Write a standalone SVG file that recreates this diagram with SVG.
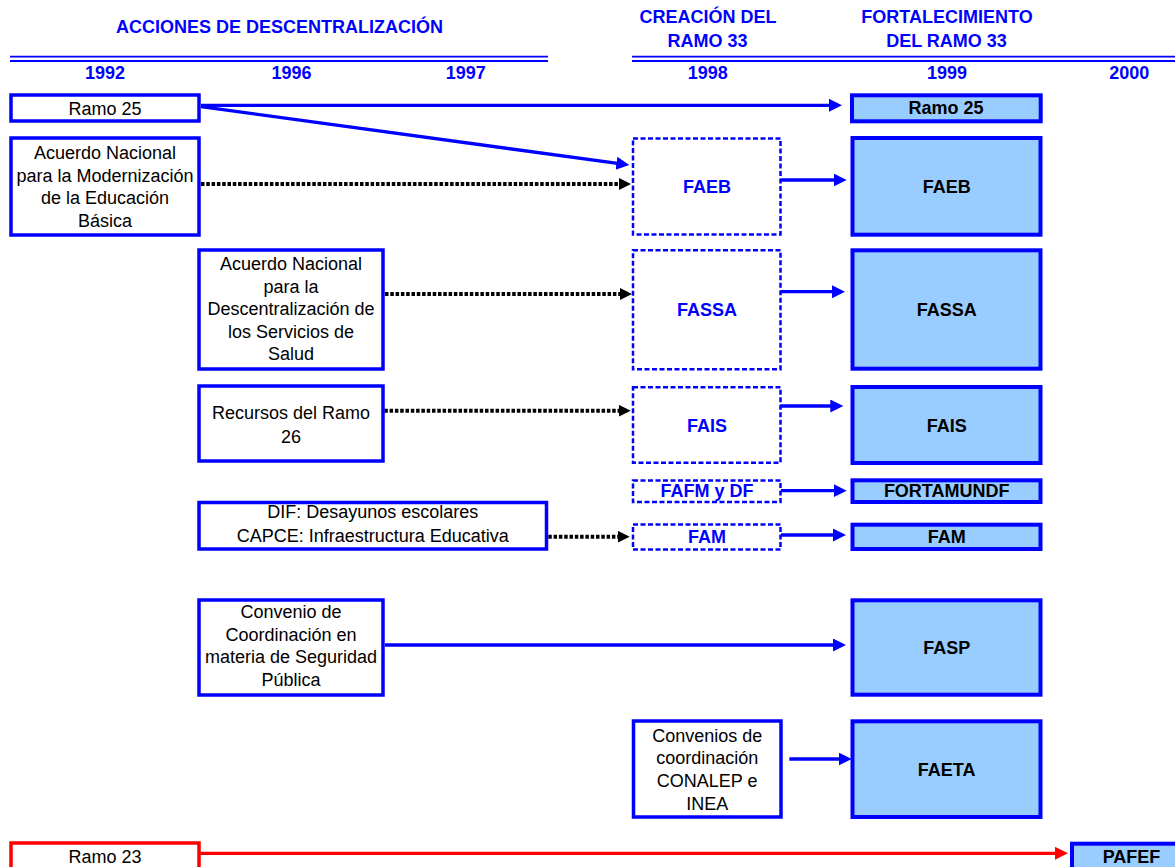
<svg xmlns="http://www.w3.org/2000/svg" width="1175" height="867" viewBox="0 0 1175 867">
<style>
text{font-family:"Liberation Sans",Arial,sans-serif;font-size:18px;text-anchor:middle}
.h{font-weight:bold;fill:#0000FF}
.t{fill:#000}
.b{font-weight:bold;fill:#000}
.bb{font-weight:bold;fill:#0000FF}
.wbox{fill:#fff;stroke:#0000FF;stroke-width:3.5}
.dbox{fill:#fff;stroke:#0000FF;stroke-width:2.5;stroke-dasharray:5 2.5}
.fbox{fill:#99CCFF;stroke:#0000FF;stroke-width:4}
.rbox{fill:#fff;stroke:#FF0000;stroke-width:3.5}
.hl{stroke:#0000FF;stroke-width:1.8}
.ab{fill:none;stroke:#0000FF;stroke-width:3.3;marker-end:url(#mb)}
.ak{fill:none;stroke:#000;stroke-width:4;stroke-dasharray:3.5 1.8;marker-end:url(#mk)}
.ar{fill:none;stroke:#FF0000;stroke-width:3.3;marker-end:url(#mr)}
</style>
<defs>
<marker id="mb" markerUnits="userSpaceOnUse" markerWidth="14" markerHeight="14" refX="5" refY="6.5" orient="auto"><path d="M0,0 L13,6.5 L0,13 z" fill="#0000FF"/></marker>
<marker id="mk" markerUnits="userSpaceOnUse" markerWidth="14" markerHeight="14" refX="5" refY="6" orient="auto"><path d="M0,0 L12,6 L0,12 z" fill="#000"/></marker>
<marker id="mr" markerUnits="userSpaceOnUse" markerWidth="16" markerHeight="16" refX="5" refY="6.5" orient="auto"><path d="M0,0 L13,6.5 L0,13 z" fill="#FF0000"/></marker>
</defs>
<rect width="1175" height="867" fill="#fff"/>
<g id="header">
<text class="h" x="279.5" y="33.3">ACCIONES DE DESCENTRALIZACIÓN</text>
<text class="h" x="708" y="22.7">CREACIÓN DEL</text>
<text class="h" x="707.5" y="46.7">RAMO 33</text>
<text class="h" x="947" y="22.7">FORTALECIMIENTO</text>
<text class="h" x="946.5" y="46.7">DEL RAMO 33</text>
<line class="hl" x1="10" y1="56.7" x2="548" y2="56.7"/>
<line class="hl" x1="10" y1="61" x2="548" y2="61"/>
<line class="hl" x1="632" y1="56.7" x2="1175" y2="56.7"/>
<line class="hl" x1="632" y1="61" x2="1175" y2="61"/>
<text class="h" x="105" y="79">1992</text>
<text class="h" x="291.6" y="79">1996</text>
<text class="h" x="465.7" y="79">1997</text>
<text class="h" x="707.8" y="79">1998</text>
<text class="h" x="947" y="79">1999</text>
<text class="h" x="1129.3" y="79">2000</text>
</g>
<g id="connectors">
<path class="ab" d="M201,105.3 L834,105.3"/>
<path class="ab" d="M201,106.7 L621.4,163.9"/>
<path class="ak" d="M201,184 L624,184"/>
<path class="ab" d="M781,180 L838.7,180"/>
<path class="ak" d="M385,294 L625,294"/>
<path class="ab" d="M781,291.7 L837,291.7"/>
<path class="ak" d="M379,410.7 L623.7,410.7"/>
<path class="ab" d="M758.3,406 L835.3,406"/>
<path class="ab" d="M781,490.7 L838.7,490.7"/>
<path class="ak" d="M548.3,536.7 L622.7,536.7"/>
<path class="ab" d="M781,535 L838,535"/>
<path class="ab" d="M385,645 L838,645"/>
<path class="ab" d="M789.3,759 L843.7,759"/>
<path class="ar" d="M200,853.3 L1060,853.3"/>
</g>
<g id="n-ramo25-left"><rect class="wbox" x="11" y="95" width="188" height="26"/><text class="t" x="105" y="115">Ramo 25</text></g>
<g id="n-acuerdo-educacion"><rect class="wbox" x="11" y="138" width="188" height="97"/>
<text class="t" x="105" y="159.3">Acuerdo Nacional</text><text class="t" x="105" y="181.7">para la Modernización</text><text class="t" x="105" y="204">de la Educación</text><text class="t" x="105" y="226.5">Básica</text></g>
<g id="n-acuerdo-salud"><rect class="wbox" x="199" y="250" width="184" height="119"/>
<text class="t" x="291" y="270">Acuerdo Nacional</text><text class="t" x="291" y="292.7">para la</text><text class="t" x="291" y="315">Descentralización de</text><text class="t" x="291" y="337.7">los Servicios de</text><text class="t" x="291" y="360.3">Salud</text></g>
<g id="n-recursos26"><rect class="wbox" x="199" y="386" width="184" height="75"/>
<text class="t" x="291" y="419.3">Recursos del Ramo</text><text class="t" x="291" y="442.7">26</text></g>
<g id="n-dif"><rect class="wbox" x="199" y="502.5" width="347.5" height="46.5"/>
<text class="t" x="372.8" y="518.3">DIF: Desayunos escolares</text><text class="t" x="372.8" y="541.7">CAPCE: Infraestructura Educativa</text></g>
<g id="n-convenio-seguridad"><rect class="wbox" x="199" y="600" width="184" height="95"/>
<text class="t" x="291" y="618">Convenio de</text><text class="t" x="291" y="640.7">Coordinación en</text><text class="t" x="291" y="663.4">materia de Seguridad</text><text class="t" x="291" y="686">Pública</text></g>
<g id="n-convenios-conalep"><rect class="wbox" x="633.5" y="721" width="147.5" height="96"/>
<text class="t" x="707.2" y="741.7">Convenios de</text><text class="t" x="707.2" y="764.3">coordinación</text><text class="t" x="707.2" y="787.3">CONALEP e</text><text class="t" x="707.2" y="810">INEA</text></g>
<g id="n-ramo23"><rect class="rbox" x="11" y="843" width="188" height="40"/><text class="t" x="105" y="863">Ramo 23</text></g>
<g id="n-faeb-98"><rect class="dbox" x="633" y="138.5" width="147.5" height="96"/><text class="bb" x="707" y="192.7">FAEB</text></g>
<g id="n-fassa-98"><rect class="dbox" x="633" y="250.3" width="147.5" height="119"/><text class="bb" x="707" y="315.7">FASSA</text></g>
<g id="n-fais-98"><rect class="dbox" x="633" y="387.3" width="147.5" height="75.5"/><text class="bb" x="707" y="431.7">FAIS</text></g>
<g id="n-fafm-98"><rect class="dbox" x="633" y="480.5" width="147.5" height="21.5"/><text class="bb" x="707" y="496.7">FAFM y DF</text></g>
<g id="n-fam-98"><rect class="dbox" x="633" y="524.5" width="147.5" height="25"/><text class="bb" x="707" y="543.3">FAM</text></g>
<g id="n-ramo25-right"><rect class="fbox" x="852" y="95.3" width="188.7" height="26"/><text class="b" x="946" y="114.3">Ramo 25</text></g>
<g id="n-faeb-99"><rect class="fbox" x="852.5" y="138" width="188" height="96.7"/><text class="b" x="946.7" y="192.7">FAEB</text></g>
<g id="n-fassa-99"><rect class="fbox" x="852.5" y="250.3" width="188" height="118.4"/><text class="b" x="946.7" y="315.7">FASSA</text></g>
<g id="n-fais-99"><rect class="fbox" x="852.5" y="387" width="188" height="76"/><text class="b" x="946.7" y="431.7">FAIS</text></g>
<g id="n-fortamundf"><rect class="fbox" x="852.5" y="480.3" width="188" height="21.7"/><text class="b" x="946.7" y="496.7">FORTAMUNDF</text></g>
<g id="n-fam-99"><rect class="fbox" x="852.5" y="524.7" width="188" height="24.3"/><text class="b" x="946.7" y="543.3">FAM</text></g>
<g id="n-fasp"><rect class="fbox" x="852.5" y="600.3" width="188" height="94.4"/><text class="b" x="946.7" y="653.5">FASP</text></g>
<g id="n-faeta"><rect class="fbox" x="852.5" y="721.3" width="188" height="95.7"/><text class="b" x="946.7" y="776">FAETA</text></g>
<g id="n-pafef"><rect class="fbox" x="1072" y="843.7" width="120" height="40"/><text class="b" x="1131.5" y="862.7">PAFEF</text></g>
</svg>
